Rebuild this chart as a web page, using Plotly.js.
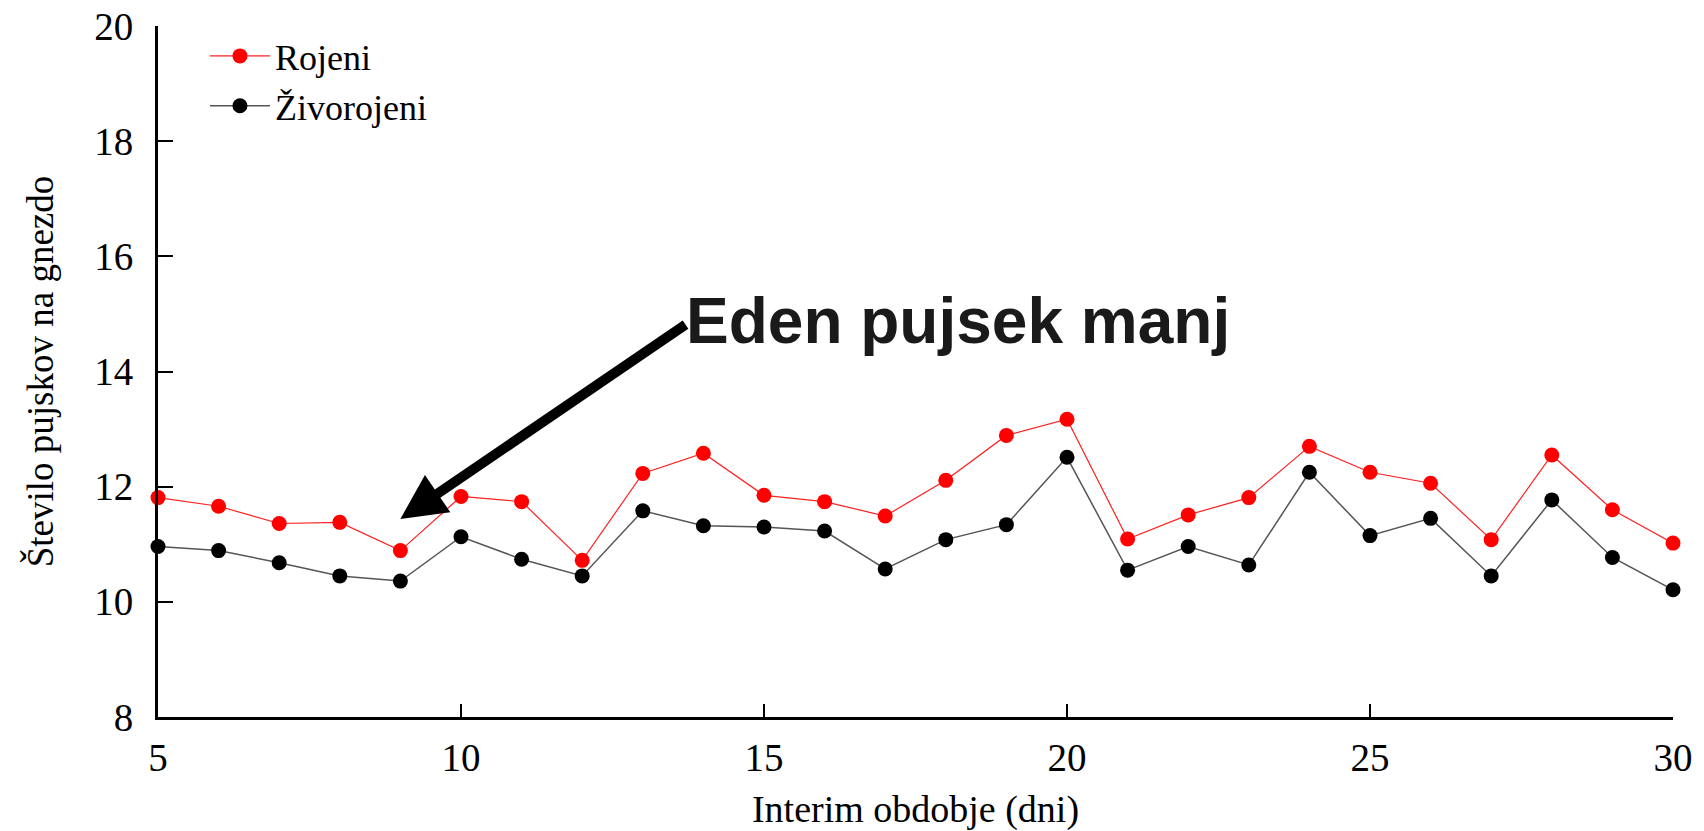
<!DOCTYPE html>
<html>
<head>
<meta charset="utf-8">
<script src="https://cdn.plot.ly/plotly-3.0.1.min.js"></script>
<style>html,body{margin:0;padding:0;background:#fff;}#chart{width:1704px;height:831px;}</style>
</head>
<body>
<div id="chart"></div>
<script>
const days = [5,6,7,8,9,10,11,12,13,14,15,16,17,18,19,20,21,22,23,24,25,26,27,28,29,30];
const rojeni = [11.81,11.66,11.36,11.38,10.89,11.83,11.74,10.72,12.23,12.58,11.85,11.74,11.49,12.11,12.89,13.17,11.09,11.51,11.81,12.70,12.25,12.06,11.08,12.55,11.60,11.02];
const zivorojeni = [10.96,10.89,10.68,10.45,10.36,11.13,10.74,10.45,11.58,11.32,11.30,11.23,10.57,11.08,11.34,12.51,10.55,10.96,10.64,12.25,11.15,11.45,10.45,11.77,10.77,10.21];
const seriesNames = ["Rojeni", "Živorojeni"];
const xTicks = [5,10,15,20,25,30];
const yTicks = [8,10,12,14,16,18,20];
const xTitle = "Interim obdobje (dni)";
const yTitle = "Število pujskov na gnezdo";
const noteText = "Eden pujsek manj";

const serif = "Liberation Serif, Times New Roman, serif";

const traces = [
  {x: days, y: rojeni, name: seriesNames[0], type: "scatter", mode: "lines+markers",
   line: {color: "#ff2020", width: 1.2}, marker: {color: "#ff0000", size: 15},
   cliponaxis: false},
  {x: days, y: zivorojeni, name: seriesNames[1], type: "scatter", mode: "lines+markers",
   line: {color: "#555555", width: 1.5}, marker: {color: "#000000", size: 15},
   cliponaxis: false}
];

const layout = {
  width: 1704, height: 831,
  margin: {l: 158, r: 31, t: 26, b: 114},
  paper_bgcolor: "#ffffff", plot_bgcolor: "#ffffff",
  showlegend: true,
  legend: {x: 0.031, y: 1.0, xanchor: "left", yanchor: "top",
           bgcolor: "rgba(0,0,0,0)", font: {family: serif, size: 36, color: "#000"},
           tracegroupgap: 0, itemwidth: 60},
  xaxis: {range: [5, 30], tickvals: xTicks, ticktext: xTicks.map(String),
          showgrid: false, zeroline: false, showline: true, linecolor: "#000", linewidth: 2.5,
          ticks: "inside", ticklen: 13, tickwidth: 1.5, tickcolor: "#000",
          ticklabelstandoff: 5,
          tickfont: {family: serif, size: 39, color: "#000"},
          title: {text: xTitle, font: {family: serif, size: 38, color: "#000"}, standoff: 18}},
  yaxis: {range: [8, 20], tickvals: yTicks, ticktext: yTicks.map(String),
          showgrid: false, zeroline: false, showline: true, linecolor: "#000", linewidth: 3,
          ticks: "inside", ticklen: 15, tickwidth: 2, tickcolor: "#000",
          ticklabelstandoff: 14,
          tickfont: {family: serif, size: 39, color: "#000"},
          title: {text: yTitle, font: {family: serif, size: 37, color: "#000"}, standoff: 30}},
  annotations: [
    {x: 9, y: 11.44, ax: 13.73, ay: 14.83, xref: "x", yref: "y", axref: "x", ayref: "y",
     text: "", showarrow: true, arrowhead: 2, arrowsize: 0.9, arrowwidth: 10, arrowcolor: "#000"},
    {x: 13.68, y: 14.87, xref: "x", yref: "y", xanchor: "left", yanchor: "middle",
     text: noteText, showarrow: false,
     font: {family: "Liberation Sans, Arial, sans-serif", size: 64, color: "#1a1a1a", weight: "bold"}}
  ]
};

Plotly.newPlot("chart", traces, layout, {staticPlot: true, displayModeBar: false});
</script>
</body>
</html>
